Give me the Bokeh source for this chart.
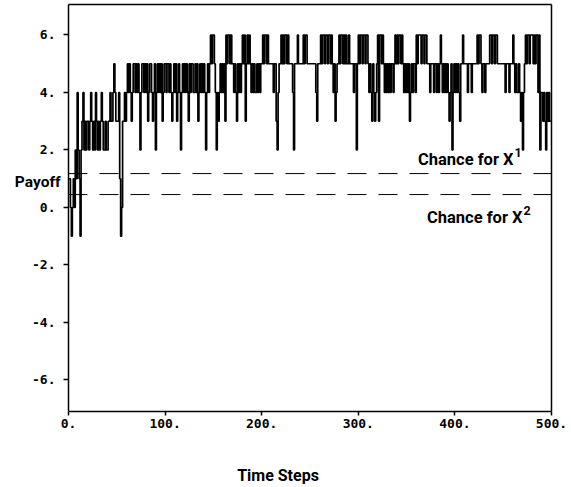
from bokeh.plotting import figure
from bokeh.models import Range1d, FixedTicker, Label, LinearAxis
from bokeh.embed import file_html
from bokeh.resources import INLINE

# ---- data ----
time_steps = list(range(501))
payoff = [
    1, 1, 0, -1, 0, 1, 0, 2, 1, 4,
    2, 1, -1, 2, 3, 4, 2, 3, 2, 3,
    3, 2, 3, 4, 3, 2, 3, 2, 4, 3,
    2, 3, 2, 3, 4, 3, 2, 2, 3, 2,
    2, 3, 3, 4, 3, 3, 4, 5, 4, 3,
    3, 3, 4, 1, -1, 0, 3, 3, 4, 3,
    4, 5, 4, 5, 4, 3, 4, 5, 5, 4,
    5, 4, 5, 4, 2, 4, 5, 5, 4, 5,
    4, 5, 3, 4, 5, 5, 4, 3, 4, 5,
    2, 4, 5, 4, 5, 4, 5, 3, 4, 5,
    5, 4, 5, 5, 4, 5, 4, 3, 4, 5,
    4, 5, 3, 4, 5, 4, 2, 4, 5, 4,
    5, 4, 5, 4, 3, 5, 4, 5, 5, 4,
    4, 5, 4, 5, 3, 4, 5, 4, 5, 4,
    5, 4, 2, 4, 5, 4, 5, 6, 5, 6,
    6, 5, 4, 2, 4, 3, 4, 5, 4, 5,
    4, 5, 3, 6, 5, 6, 6, 5, 6, 5,
    5, 4, 5, 4, 3, 5, 4, 5, 4, 5,
    6, 5, 6, 3, 5, 6, 5, 6, 5, 4,
    5, 4, 5, 4, 4, 5, 4, 5, 4, 5,
    5, 6, 5, 6, 6, 5, 6, 5, 5, 5,
    5, 5, 4, 5, 5, 3, 2, 4, 5, 5,
    6, 5, 6, 5, 6, 6, 5, 6, 5, 5,
    5, 5, 4, 2, 5, 5, 5, 6, 5, 5,
    5, 5, 5, 6, 5, 6, 6, 5, 5, 5,
    5, 5, 5, 5, 5, 5, 4, 3, 5, 5,
    5, 6, 5, 6, 6, 5, 6, 6, 5, 6,
    6, 5, 6, 5, 4, 5, 3, 4, 5, 5,
    6, 5, 6, 6, 5, 6, 5, 6, 5, 5,
    6, 5, 5, 5, 5, 4, 5, 5, 2, 5,
    6, 5, 6, 6, 5, 6, 6, 5, 6, 6,
    5, 4, 5, 4, 3, 5, 4, 3, 4, 5,
    6, 3, 6, 6, 5, 6, 5, 4, 5, 4,
    5, 4, 5, 4, 5, 5, 4, 5, 6, 5,
    6, 5, 6, 6, 5, 6, 5, 4, 5, 4,
    5, 4, 5, 3, 4, 5, 4, 5, 5, 4,
    6, 5, 6, 6, 6, 5, 6, 6, 5, 6,
    6, 5, 5, 5, 4, 5, 5, 5, 4, 5,
    5, 4, 5, 4, 5, 6, 5, 4, 5, 4,
    5, 4, 5, 4, 3, 4, 5, 2, 4, 5,
    4, 5, 4, 5, 4, 3, 5, 5, 6, 5,
    5, 5, 5, 4, 5, 5, 5, 4, 5, 5,
    5, 5, 5, 6, 5, 6, 6, 5, 4, 5,
    5, 4, 5, 5, 5, 5, 6, 6, 5, 6,
    6, 5, 6, 6, 5, 5, 5, 5, 5, 5,
    5, 5, 4, 5, 5, 5, 4, 5, 5, 5,
    6, 5, 4, 5, 4, 4, 5, 4, 3, 4,
    2, 4, 5, 6, 5, 6, 6, 5, 6, 6,
    6, 5, 6, 5, 6, 6, 4, 6, 2, 4,
    4, 3, 4, 3, 2, 4, 3, 4, 3, 3,
    3,
]

chance_levels = [1.18, 0.45]
chance_texts = ["Chance for X", "Chance for X"]
chance_sups = ["1", "2"]
chance_text_x = [460.7, 470.0]
chance_text_y = [1.67, -0.35]
chance_sup_y = [1.92, -0.12]

x_ticks = [0, 100, 200, 300, 400, 500]
x_tick_labels = ["0.", "100.", "200.", "300.", "400.", "500."]
y_ticks = [-6, -4, -2, 0, 2, 4, 6]
y_tick_labels = ["-6.", "-4.", "-2.", "0.", "2.", "4.", "6."]

x_title = "Time Steps"
y_title = "Payoff"
y_title_pos = (-55.5, 0.9)

y_low, y_top = -7.096, 7.06

# ---- figure ----
p = figure(width=571, height=487,
           x_range=Range1d(-68.3, 502.07), y_range=Range1d(y_low, 7.2),
           output_backend="svg", toolbar_location=None, y_axis_location=None,
           min_border_left=2, min_border_right=18, min_border_top=0, min_border_bottom=76)
p.background_fill_color = "white"
p.border_fill_color = "white"
p.outline_line_color = None
p.xgrid.visible = False
p.ygrid.visible = False

# frame: top and right edges
p.segment(x0=[x_ticks[0], x_ticks[-1]], y0=[y_top, y_low],
          x1=[x_ticks[-1], x_ticks[-1]], y1=[y_top, y_top],
          line_color="black", line_width=1.5)

p.step(time_steps, payoff, mode="after", line_color="black", line_width=1.7)

for lvl in chance_levels:
    p.line([x_ticks[0], x_ticks[-1]], [lvl, lvl], line_color="black", line_width=1,
           line_dash="19 12")

label_font = "Roboto"
for txt, sup, lx, ly, sy in zip(chance_texts, chance_sups, chance_text_x, chance_text_y, chance_sup_y):
    p.add_layout(Label(x=lx, y=ly, text=txt, text_font=label_font, text_font_style="bold",
                       text_font_size="16.5px", text_color="black",
                       text_align="right", text_baseline="middle"))
    p.add_layout(Label(x=lx + 1.0, y=sy, text=sup, text_font=label_font, text_font_style="bold",
                       text_font_size="12.5px", text_color="black",
                       text_align="left", text_baseline="middle"))

p.add_layout(Label(x=y_title_pos[0], y=y_title_pos[1], text=y_title, text_font=label_font,
                   text_font_style="bold", text_font_size="15.5px", text_color="black",
                   text_align="left", text_baseline="middle"))

yax = LinearAxis(fixed_location=0, ticker=FixedTicker(ticks=y_ticks), bounds=(y_low, y_top))
p.add_layout(yax, "left")

xax = p.xaxis[0]
xax.bounds = (x_ticks[0], x_ticks[-1])

for ax in (xax, yax):
    ax.axis_line_color = "black"
    ax.axis_line_width = 1.5
    ax.major_tick_line_color = "black"
    ax.major_tick_line_width = 1.5
    ax.major_tick_out = 5
    ax.major_tick_in = 0
    ax.minor_tick_line_color = None
    ax.major_label_text_font = "DejaVu Sans Mono"
    ax.major_label_text_font_style = "bold"
    ax.major_label_text_font_size = "13px"
    ax.major_label_text_color = "black"

xax.ticker = FixedTicker(ticks=x_ticks)
xax.major_label_overrides = {t: s for t, s in zip(x_ticks, x_tick_labels)}
xax.major_tick_out = 4
xax.major_label_standoff = 3
xax.axis_label = x_title
xax.axis_label_text_font = label_font
xax.axis_label_text_font_style = "bold"
xax.axis_label_text_font_size = "16px"
xax.axis_label_text_color = "black"
xax.axis_label_standoff = 35

yax.major_label_overrides = {t: s for t, s in zip(y_ticks, y_tick_labels)}
yax.major_label_standoff = 8

open("out.html", "w").write(file_html(p, INLINE))
